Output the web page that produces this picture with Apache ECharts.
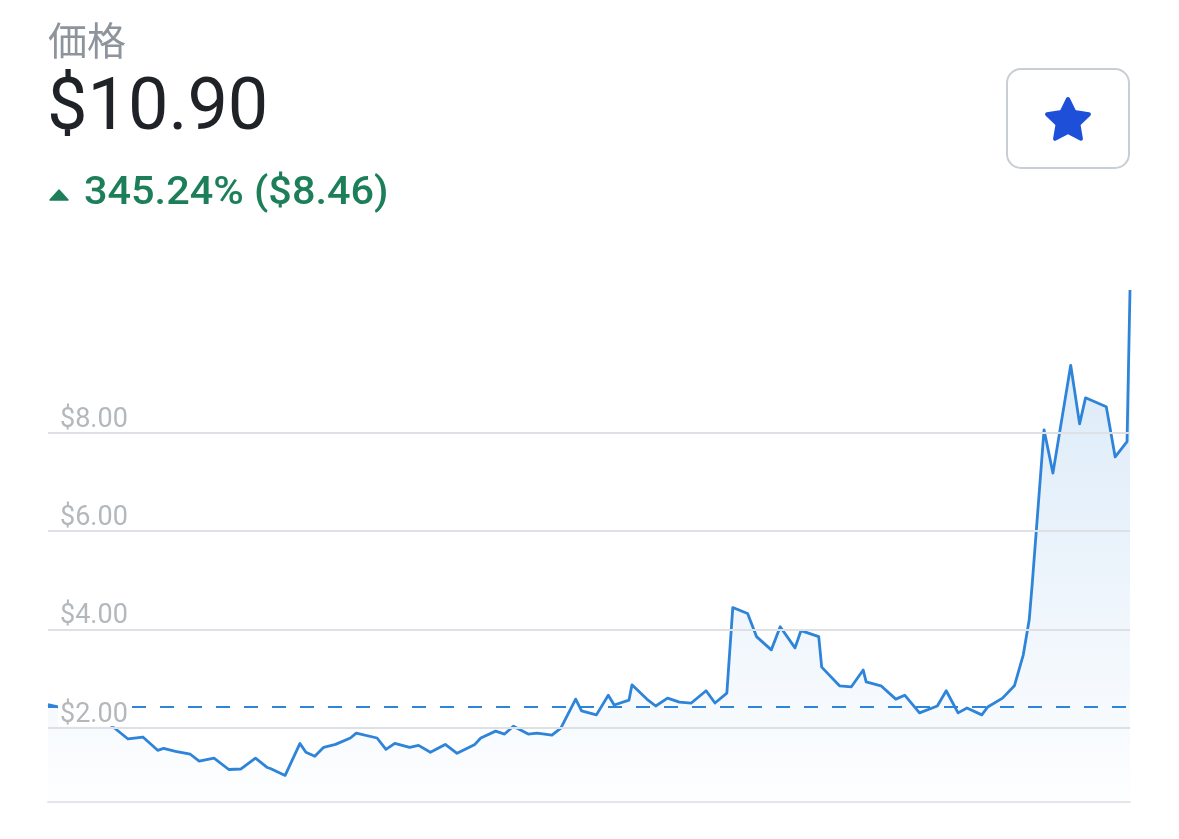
<!DOCTYPE html>
<html>
<head>
<meta charset="utf-8">
<script src="https://cdn.jsdelivr.net/npm/echarts@6/dist/echarts.min.js"></script>
<style>
  html, body { margin: 0; padding: 0; background: #ffffff; }
  #chart { width: 1179px; height: 839px; }
</style>
</head>
<body>
<div id="chart"></div>
<script>
// ---- data (day index within the 1-year window, price in USD) ----
var days = [0, 7, 15, 20, 27, 32, 37, 39, 43, 48, 51, 56, 61, 65, 70, 74, 75, 80, 85, 87,
  90, 93, 97, 102, 104, 111, 114, 117, 122, 125, 129, 134, 138, 144, 146, 151, 154, 157, 162, 165,
  170, 173, 178, 180, 185, 189, 191, 196, 197, 202, 205, 209, 213, 217, 222, 225, 229, 231, 236, 239,
  244, 247, 252, 254, 260, 261, 267, 271, 275, 276, 281, 286, 289, 294, 300, 303, 307, 310, 315, 317,
  322, 326, 329, 331, 332, 336, 339, 345, 348, 350, 357, 360, 364, 365];
var prices = [2.48, 2.38, 2.31, 2.12, 1.78, 1.82, 1.55, 1.59, 1.53, 1.47, 1.33, 1.39, 1.16, 1.17, 1.39, 1.20, 1.18, 1.04, 1.69, 1.51,
  1.43, 1.61, 1.67, 1.80, 1.90, 1.80, 1.57, 1.69, 1.61, 1.65, 1.51, 1.67, 1.49, 1.67, 1.80, 1.94, 1.88, 2.04, 1.88, 1.90,
  1.86, 2.00, 2.59, 2.35, 2.27, 2.67, 2.47, 2.57, 2.88, 2.59, 2.45, 2.61, 2.53, 2.51, 2.76, 2.51, 2.71, 4.45, 4.33, 3.86,
  3.59, 4.06, 3.63, 3.98, 3.86, 3.24, 2.86, 2.84, 3.18, 2.94, 2.86, 2.59, 2.67, 2.31, 2.45, 2.76, 2.31, 2.41, 2.27, 2.43,
  2.61, 2.86, 3.49, 4.20, 4.92, 8.06, 7.18, 9.37, 8.18, 8.71, 8.53, 7.51, 7.82, 10.90];
var tickValues = [2, 4, 6, 8];
var tickLabels = ['$2.00', '$4.00', '$6.00', '$8.00'];
var baselinePrice = 2.44;
var headerTitle = '価格';
var headerPrice = '$10.90';
var headerChange = '345.24% ($8.46)';

var seriesData = days.map(function (d, i) { return [d, prices[i]]; });

var chart = echarts.init(document.getElementById('chart'), null, { renderer: 'canvas' });

var lineColor = '#2d84d8';
var markLines = [{
  yAxis: baselinePrice,
  lineStyle: { color: lineColor, width: 2, type: [14, 14] },
  label: { show: false }
}].concat(tickValues.map(function (v, i) {
  return { yAxis: v, label: { formatter: tickLabels[i] } };
}));

// star icon outline (decoration)
function starPoints(cx, cy, R, r) {
  var pts = [];
  for (var k = 0; k < 10; k++) {
    var ang = -Math.PI / 2 + k * Math.PI / 5;
    var rad = (k % 2 === 0) ? R : r;
    pts.push([cx + rad * Math.cos(ang), cy + rad * Math.sin(ang)]);
  }
  return pts;
}

var option = {
  animation: false,
  backgroundColor: '#ffffff',
  grid: { left: 48, right: 49, top: 290, bottom: 37 },
  xAxis: {
    type: 'value',
    min: 0,
    max: 365,
    axisLine: { show: true, onZero: false, lineStyle: { color: '#e4e7ea', width: 2 } },
    axisTick: { show: false },
    axisLabel: { show: false },
    splitLine: { show: false }
  },
  yAxis: {
    type: 'value',
    min: 0.5,
    max: 10.9,
    show: false,
    splitLine: { show: false }
  },
  series: [
    {
      type: 'line',
      name: 'price',
      z: 2,
      data: seriesData,
      symbol: 'none',
      lineStyle: { color: lineColor, width: 2.8, join: 'round' },
      areaStyle: {
        color: new echarts.graphic.LinearGradient(0, 0, 0, 1, [
          { offset: 0, color: 'rgba(45,132,216,0.27)' },
          { offset: 1, color: 'rgba(45,132,216,0.01)' }
        ])
      }
    },
    {
      type: 'line',
      name: 'grid',
      z: 3,
      data: seriesData,
      symbol: 'none',
      silent: true,
      lineStyle: { opacity: 0, width: 0 },
      markLine: {
        silent: true,
        symbol: ['none', 'none'],
        lineStyle: { color: '#dde1e5', width: 2, type: 'solid' },
        label: {
          show: true,
          position: 'insideStartTop',
          distance: [10, 2],
          color: '#b3b8bd',
          fontSize: 27,
          lineHeight: 22,
          fontFamily: 'Roboto, sans-serif',
          backgroundColor: '#ffffff',
          padding: [0, 4, 0, 2]
        },
        data: markLines
      }
    }
  ],
  graphic: [
    {
      type: 'text',
      x: 48, y: 40,
      style: { text: headerTitle, fontSize: 39, fill: '#8d949c', fontFamily: '"Noto Sans CJK JP", sans-serif', verticalAlign: 'middle', align: 'left' }
    },
    {
      type: 'text',
      x: 47, y: 111,
      style: { text: headerPrice, fontSize: 72, fill: '#1f2226', fontFamily: 'Roboto, sans-serif', verticalAlign: 'middle', align: 'left' }
    },
    {
      type: 'polygon',
      shape: { points: [[50, 200], [59, 190], [68, 200]] },
      style: { fill: '#1c7f5a', stroke: '#1c7f5a', lineWidth: 1.5, lineJoin: 'round' }
    },
    {
      type: 'text',
      x: 84, y: 194,
      scaleX: 1.09,
      style: { text: headerChange, fontSize: 38, fontWeight: 500, fill: '#1c7f5a', fontFamily: 'Roboto, sans-serif', verticalAlign: 'middle', align: 'left' }
    },
    {
      type: 'rect',
      shape: { x: 1007, y: 69, width: 122, height: 99, r: 14 },
      style: { fill: '#ffffff', stroke: '#c9ced5', lineWidth: 2 }
    },
    {
      type: 'polygon',
      shape: { points: starPoints(1068, 121, 22, 11) },
      style: { fill: '#1e4fd8', stroke: '#1e4fd8', lineWidth: 4, lineJoin: 'round' }
    }
  ]
};

chart.setOption(option);
</script>
</body>
</html>
